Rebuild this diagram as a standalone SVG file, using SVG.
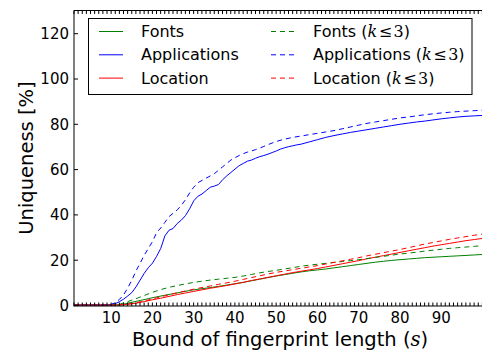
<svg xmlns="http://www.w3.org/2000/svg" width="482" height="353" viewBox="0 0 482 353">
  <style>
    text { font-family: "DejaVu Sans", "Liberation Sans", sans-serif; fill: #000; }
    .tick { font-size: 15px; }
    .ytick { text-anchor: end; }
    .xtick { text-anchor: middle; }
    .axlabel { font-size: 19.5px; text-anchor: middle; }
    .leg { font-size: 16px; }
    .math { font-family: "DejaVu Serif", "Liberation Serif", serif; }
    .mi { font-family: "DejaVu Serif", "Liberation Serif", serif; font-style: italic; }
    .spine { stroke: #000; stroke-width: 1; fill: none; }
    .curve { fill: none; stroke-width: 1; vector-effect: non-scaling-stroke; stroke-linejoin: round; }
    .dash { stroke-dasharray: 5 4; }
    .g { stroke: #008000; }
    .b { stroke: #0000ff; }
    .r { stroke: #ff0000; }
    .hl { stroke-width: 1; fill: none; }
    .hdash { stroke-dasharray: 5 4; }
  </style>
  <defs>
    <clipPath id="axes-clip">
      <rect x="74" y="10.5" width="410" height="295.5"/>
    </clipPath>
  </defs>
  <rect x="0" y="0" width="482" height="353" fill="#fff"/>

  <!-- data curves: x in [1,100], uniqueness in percent -->
  <g id="connectors" clip-path="url(#axes-clip)">
    <g transform="matrix(4.125 0 0 -2.265 70 305)">
      <polyline id="fonts" class="curve g" points="1,0 11,0 13,0.4 15,1.2 17,2 19,2.8 21,3.6 23,4.3 25,5 27,5.7 29,6.4 30,6.7 32,7.2 34,7.7 36,8.2 38,8.8 40,9.4 42,10 44,10.7 46,11.4 48,12.1 50,12.8 52,13.4 54,14 56,14.6 58,15.1 60,15.5 62,15.9 64,16.4 66,16.9 68,17.4 70,17.9 72,18.4 74,18.9 76,19.3 78,19.7 80,20 82,20.3 84,20.6 86,20.9 88,21.1 90,21.3 92,21.5 94,21.7 96,21.9 98,22.1 100,22.3"/>
      <polyline id="applications" class="curve b" points="1,0 9,0 10,0.2 11,0.6 12,1.5 13,2.6 14,4 15,5.5 16,8 17,11 18,14 19,16.5 20,18.5 21,21.5 22,25 23,30.5 24,33 25,33.8 26,36 27,37.5 28,39.5 29,42.5 30,46 31,48 32,49 33,50.5 34,52 35,52.5 36,53.2 37,55.3 38,57 39,58.5 40,60 41,61.5 42,62.5 43,63.5 44,64 45,64.8 46,65.5 47,66 48,66.6 49,67.3 50,68 51,68.8 52,69.4 53,69.9 54,70.3 55,70.7 56,71 58,72 60,73 62,74 64,74.8 66,75.5 68,76.2 70,76.8 72,77.4 74,78 76,78.6 78,79.2 80,79.8 82,80.3 84,80.8 86,81.2 88,81.7 90,82.2 92,82.6 94,83 96,83.3 98,83.5 100,83.7"/>
      <polyline id="location" class="curve r" points="1,0 12,0 14,0.3 16,0.8 18,1.5 20,2.3 22,3 24,3.8 26,4.6 28,5.3 30,6 32,6.7 34,7.4 36,8 38,8.6 40,9.3 42,10 44,10.8 46,11.5 48,12.2 50,12.9 52,13.6 54,14.3 56,14.9 58,15.5 60,16.1 62,16.8 64,17.5 66,18.2 68,18.9 70,19.6 72,20.4 74,21.1 76,21.8 78,22.5 80,23.2 82,23.9 84,24.6 86,25.3 88,26 90,26.6 92,27.2 94,27.8 96,28.4 98,28.9 100,29.4"/>
      <polyline id="fonts-k3" class="curve dash g" points="1,0 11,0 12,0.3 14,1.5 16,2.8 18,4.2 20,5.6 22,6.8 24,7.8 26,8.6 28,9.3 30,10 32,10.5 34,11 36,11.4 38,11.8 40,12.2 42,12.8 44,13.5 46,14.2 48,14.8 50,15.3 52,15.9 54,16.5 56,17.1 58,17.6 60,18 62,18.4 64,18.8 66,19.2 68,19.6 70,20 72,20.5 74,21 76,21.5 78,22 80,22.5 82,22.9 84,23.3 86,23.8 88,24.2 90,24.6 92,25 94,25.3 96,25.6 98,25.9 100,26.2"/>
      <polyline id="applications-k3" class="curve dash b" points="1,0 9,0 10,0.3 11,1 12,2.5 13,4.5 14,7.5 15,11 16,15 17,18.5 18,22 19,25 20,28 21,32 22,34 23,36.5 24,39 25,40.5 26,42 27,44 28,46.5 29,49.5 30,52 31,54 32,55 33,56 34,57 35,58 36,59.5 37,61 38,62.5 39,64 40,65 41,66 42,66.8 43,67.5 44,68 45,68.6 46,69.3 47,70 48,70.8 49,71.5 50,72.2 52,73.2 54,74 56,74.6 58,75.2 60,75.8 62,76.4 64,77 66,77.8 68,78.6 70,79.4 72,80.2 74,80.8 76,81.4 78,82 80,82.6 82,83 84,83.5 86,84 88,84.4 90,84.8 92,85.1 94,85.4 96,85.6 98,85.8 100,86"/>
      <polyline id="location-k3" class="curve dash r" points="1,0 12,0 14,0.4 16,1 18,1.8 20,2.7 22,3.6 24,4.5 26,5.4 28,6.2 30,7 32,7.7 34,8.4 36,9.1 38,9.8 40,10.5 42,11.3 44,12.1 46,12.9 48,13.7 50,14.4 52,15 54,15.6 56,16.2 58,16.8 60,17.4 62,18.1 64,18.8 66,19.5 68,20.2 70,20.9 72,21.7 74,22.4 76,23.1 78,23.8 80,24.5 82,25.3 84,26.1 86,26.9 88,27.6 90,28.3 92,29 94,29.6 96,30.2 98,30.8 100,31.3"/>
    </g>
  </g>

  <!-- axes frame and ticks -->
  <g id="axes">
    <path class="spine" d="M74 10.5 H483 M74 10.5 V306.5 M74 306 H483"/>
    <!-- minor x ticks every unit, drawn as short dashed strokes -->
    <line x1="73.5" y1="12.25" x2="483" y2="12.25" stroke="#000" stroke-width="3.5" stroke-dasharray="1 3.125"/>
    <line x1="73.5" y1="304.25" x2="483" y2="304.25" stroke="#000" stroke-width="3.5" stroke-dasharray="1 3.125"/>
    <path class="spine" d="M74 305.5 h4 M74 260.2 h4 M74 214.9 h4 M74 169.6 h4 M74 124.3 h4 M74 79 h4 M74 33.7 h4"/>
    <g class="tick ytick">
      <text x="69" y="310.9">0</text>
      <text x="69" y="265.6">20</text>
      <text x="69" y="220.3">40</text>
      <text x="69" y="175">60</text>
      <text x="69" y="129.7">80</text>
      <text x="69" y="84.4">100</text>
      <text x="69" y="39.1">120</text>
    </g>
    <g class="tick xtick">
      <text x="111.25" y="322.5">10</text>
      <text x="152.5" y="322.5">20</text>
      <text x="193.75" y="322.5">30</text>
      <text x="235" y="322.5">40</text>
      <text x="276.25" y="322.5">50</text>
      <text x="317.5" y="322.5">60</text>
      <text x="358.75" y="322.5">70</text>
      <text x="400" y="322.5">80</text>
      <text x="441.25" y="322.5">90</text>
    </g>
    <text class="axlabel" transform="translate(33 158) rotate(-90)">Uniqueness [%]</text>
    <text class="axlabel" x="280" y="345.5">Bound of fingerprint length (<tspan class="mi">s</tspan>)</text>
  </g>

  <!-- legend -->
  <g id="legend">
    <rect x="88.5" y="18.5" width="383.5" height="76" fill="#fff" stroke="#000" stroke-width="1"/>
    <line class="hl g" x1="99" y1="31.5" x2="123" y2="31.5"/>
    <line class="hl b" x1="99" y1="54.8" x2="123" y2="54.8"/>
    <line class="hl r" x1="99" y1="78.1" x2="123" y2="78.1"/>
    <text class="leg" x="141" y="37">Fonts</text>
    <text class="leg" x="141" y="60.3">Applications</text>
    <text class="leg" x="141" y="83.6">Location</text>
    <line class="hl hdash g" x1="271" y1="31.5" x2="295" y2="31.5"/>
    <line class="hl hdash b" x1="271" y1="54.8" x2="295" y2="54.8"/>
    <line class="hl hdash r" x1="271" y1="78.1" x2="295" y2="78.1"/>
    <text class="leg" x="313" y="37">Fonts (<tspan class="mi">k</tspan><tspan class="math" dx="1.5">≤</tspan><tspan class="math" dx="1.5">3</tspan>)</text>
    <text class="leg" x="313" y="60.3">Applications (<tspan class="mi">k</tspan><tspan class="math" dx="1.5">≤</tspan><tspan class="math" dx="1.5">3</tspan>)</text>
    <text class="leg" x="313" y="83.6">Location (<tspan class="mi">k</tspan><tspan class="math" dx="1.5">≤</tspan><tspan class="math" dx="1.5">3</tspan>)</text>
  </g>
</svg>
